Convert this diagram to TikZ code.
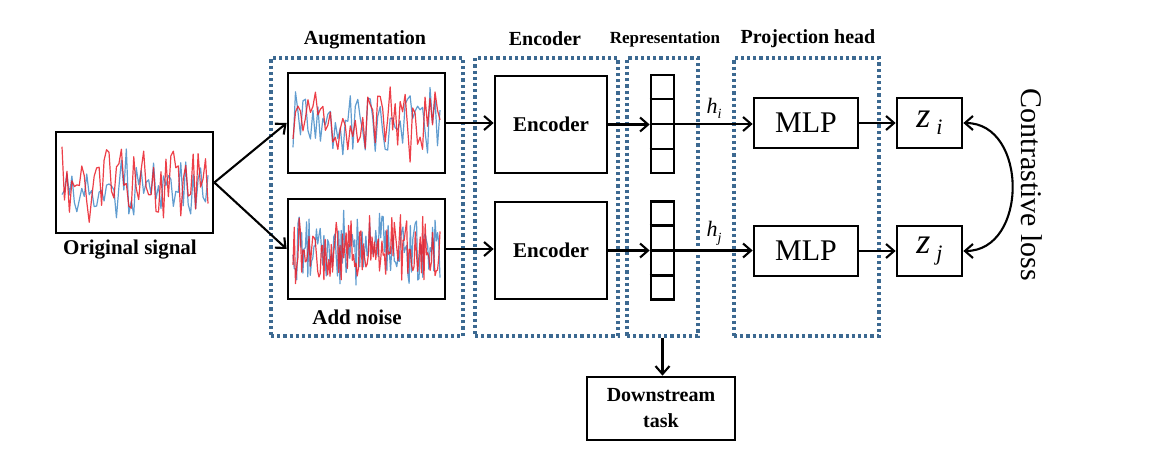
\documentclass[tikz,border=0pt]{standalone}
\usepackage{fontspec}
\setmainfont{Liberation Serif}
\usetikzlibrary{arrows.meta,calc}
\definecolor{dotblue}{RGB}{60,105,145}
\definecolor{sigred}{RGB}{235,30,40}
\definecolor{sigblue}{RGB}{70,140,200}
\newcommand{\mysignal}[6]{%
  \draw[sig,#6] plot[domain=#1:#2, samples=#5] (\x, {#3+#4*rand*abs(rand)^0.3});%
}
\begin{document}
\begin{tikzpicture}[x=1pt,y=-1pt,
  blk/.style={draw=black, line width=2.7pt, inner sep=0pt},
  dotbox/.style={draw=dotblue, line width=3.2pt, dash pattern=on 3.2pt off 3pt, inner sep=0pt},
  barb/.tip={Straight Barb[length=8pt,width=14pt,line width=2.1pt]},
  arr/.style={line width=2.1pt, -barb},
  ttl/.style={font=\fontsize{20}{22}\selectfont\bfseries},
  lbl/.style={font=\fontsize{21}{23}\selectfont\bfseries},
  big/.style={font=\fontsize{30}{32}\selectfont},
  sig/.style={line width=1.2pt, line join=round, opacity=0.85},
]
\fill[white] (0,0) rectangle (1155,453);
\useasboundingbox (0,0) rectangle (1155,453);
\pgfmathsetseed{11}
% signals
\mysignal{62}{208}{183}{40}{60}{sigblue}
\mysignal{62}{208}{183}{42}{60}{sigred}
\mysignal{293}{440}{123}{40}{60}{sigblue}
\mysignal{293}{440}{123}{42}{60}{sigred}
\mysignal{293}{440}{249}{40}{120}{sigblue}
\mysignal{293}{440}{249}{38}{120}{sigred}

% dotted group boxes
\node[dotbox, minimum width=192pt, minimum height=278pt] (augbox) at (367,197) {};
\node[dotbox, minimum width=143pt, minimum height=278pt] (encbox) at (546.5,197) {};
\node[dotbox, minimum width=71pt, minimum height=278pt] (repbox) at (662.5,197) {};
\node[dotbox, minimum width=145pt, minimum height=278pt] (projbox) at (806.5,197) {};

% titles
\node[ttl] (taug) at (365,40) {Augmentation};
\node[ttl] (tenc) at (545,39) {Encoder};
\node[font=\fontsize{17}{19}\selectfont\bfseries] (trep) at (665,39) {Representation};
\node[ttl] (tproj) at (808,39) {Projection head};

% signal boxes
\node[blk, minimum width=157pt, minimum height=101pt] (orig) at (134.5,182.5) {};
\node[blk, minimum width=157pt, minimum height=100pt] (aug1) at (366.5,123) {};
\node[blk, minimum width=157pt, minimum height=100pt] (aug2) at (366.5,249) {};
\node[lbl] (torig) at (130,250) {Original signal};
\node[lbl] (tnoise) at (357,317) {Add noise};

% encoders
\node[blk, minimum width=112pt, minimum height=97pt, lbl] (enc1) at (551,124.5) {Encoder};
\node[blk, minimum width=112pt, minimum height=97pt, lbl] (enc2) at (551,250.5) {Encoder};

% representation vectors
\node[blk, minimum width=23pt, minimum height=98pt] (vec1) at (662.5,124) {};
\node[blk, minimum width=23pt, minimum height=98pt] (vec2) at (662.5,250.5) {};
\foreach \v in {vec1,vec2}{
  \draw[line width=2.5pt] ($(\v.north west)!0.25!(\v.south west)$) -- ($(\v.north east)!0.25!(\v.south east)$);
  \draw[line width=2.5pt] ($(\v.north west)!0.5!(\v.south west)$) -- ($(\v.north east)!0.5!(\v.south east)$);
  \draw[line width=2.5pt] ($(\v.north west)!0.75!(\v.south west)$) -- ($(\v.north east)!0.75!(\v.south east)$);
}

% MLP and z
\node[blk, minimum width=104pt, minimum height=50pt, big] (mlp1) at (806,123) {MLP};
\node[blk, minimum width=104pt, minimum height=50pt, big] (mlp2) at (806,251) {MLP};
\node[blk, minimum width=65pt, minimum height=50pt, font=\fontsize{36}{38}\selectfont] (z1) at (929.5,123) {\textit{z}\,\raisebox{-0.2em}{\fontsize{22}{24}\selectfont\textit{i}}};
\node[blk, minimum width=65pt, minimum height=50pt, font=\fontsize{36}{38}\selectfont] (z2) at (929.5,251) {\textit{z}\,\raisebox{-0.2em}{\fontsize{22}{24}\selectfont\textit{j}}};

% downstream
\node[blk, minimum width=148pt, minimum height=63pt, align=center, font=\fontsize{20}{26}\selectfont\bfseries] (down) at (661,408.5) {Downstream\\task};

% contrastive loss
\node[big, rotate=-90] (closs) at (1032,185) {Contrastive loss};

% arrows
\draw[arr] (orig.east) -- (aug1.west);
\draw[arr] (orig.east) -- (aug2.west);
\draw[arr] (aug1.east) -- (aug1.east -| enc1.west);
\draw[arr] (aug2.east) -- (aug2.east -| enc2.west);
\draw[arr] (enc1.east) -- (enc1.east -| vec1.west);
\draw[arr] (enc2.east) -- (enc2.east -| vec2.west);
\draw[arr] (vec1.east) -- node[above=1pt, font=\fontsize{22}{24}\selectfont, pos=0.5] (hi) {\textit{h}\raisebox{-0.25em}{\fontsize{14}{16}\selectfont\textit{i}}} (vec1.east -| mlp1.west);
\draw[arr] (vec2.east) -- node[above=1pt, font=\fontsize{22}{24}\selectfont, pos=0.5] (hj) {\textit{h}\raisebox{-0.25em}{\fontsize{14}{16}\selectfont\textit{j}}} (vec2.east -| mlp2.west);
\draw[arr] (mlp1.east) -- (z1.west);
\draw[arr] (mlp2.east) -- (z2.west);
\draw[arr] (repbox.south) -- (repbox.south |- down.north);
\draw[line width=2.1pt, barb-barb] (z1.east) to[out=0, in=0, looseness=1.3] (z2.east);
\end{tikzpicture}
\end{document}
